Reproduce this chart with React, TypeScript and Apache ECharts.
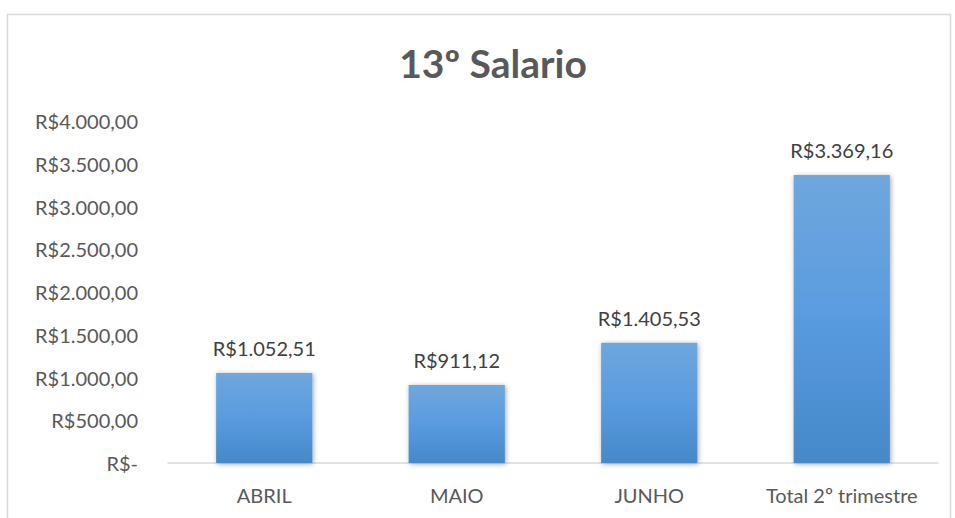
import React, { useEffect, useRef } from "react";
import * as echarts from "echarts";

const categories = ["ABRIL", "MAIO", "JUNHO", "Total 2º trimestre"];
const values = [1052.51, 911.12, 1405.53, 3369.16];
const titleText = "13º Salario";
const yMax = 4000;
const yInterval = 500;

function fmt(v: number): string {
  if (v === 0) return "R$-";
  const fixed = v.toFixed(2);
  const [intPart, dec] = fixed.split(".");
  const withDots = intPart.replace(/\B(?=(\d{3})+(?!\d))/g, ".");
  return "R$" + withDots + "," + dec;
}

export default function App() {
  const ref = useRef<HTMLDivElement>(null);
  useEffect(() => {
    document.body.style.margin = "0";
    const chart = echarts.init(ref.current!, null, { renderer: "svg" });
    const font = "Lato, Open Sans, sans-serif";
    chart.setOption({
      animation: false,
      backgroundColor: "#ffffff",
      title: {
        text: titleText,
        left: 488,
        top: 38,
        textAlign: "center",
        textStyle: { fontFamily: font, fontSize: 39, fontWeight: "bold", color: "#595959" },
      },
      graphic: [
        {
          type: "rect",
          shape: { x: 7.5, y: 14.5, width: 943, height: 520 },
          style: { fill: "none", stroke: "#d9d9d9", lineWidth: 1.5 },
          silent: true,
        },
      ],
      grid: { left: 168, right: 17, top: 121, bottom: 55, containLabel: false },
      xAxis: {
        type: "category",
        data: categories,
        axisLine: { show: true, lineStyle: { color: "#d9d9d9", width: 1.5 } },
        axisTick: { show: false },
        axisLabel: { interval: 0, fontFamily: font, fontSize: 20, color: "#595959", margin: 22 },
      },
      yAxis: {
        type: "value",
        min: 0,
        max: yMax,
        interval: yInterval,
        axisLine: { show: false },
        axisTick: { show: false },
        splitLine: { show: false },
        axisLabel: {
          fontFamily: font,
          fontSize: 20,
          color: "#595959",
          margin: 30,
          formatter: (v: number) => fmt(v),
        },
      },
      series: [
        {
          type: "bar",
          data: values,
          barWidth: "50%",
          itemStyle: {
            color: new echarts.graphic.LinearGradient(0, 0, 0, 1, [
              { offset: 0, color: "#6fa7dd" },
              { offset: 0.5, color: "#5a9be0" },
              { offset: 1, color: "#4589c9" },
            ]),
            shadowBlur: 5,
            shadowColor: "rgba(0,0,0,0.35)",
            shadowOffsetX: 1,
            shadowOffsetY: 1,
          },
          label: {
            show: true,
            position: "top",
            distance: 15,
            fontFamily: font,
            fontSize: 20,
            color: "#404040",
            formatter: (p: any) => fmt(p.value),
          },
        },
      ],
    });
    return () => chart.dispose();
  }, []);
  return <div ref={ref} style={{ width: 955, height: 518 }} />;
}
